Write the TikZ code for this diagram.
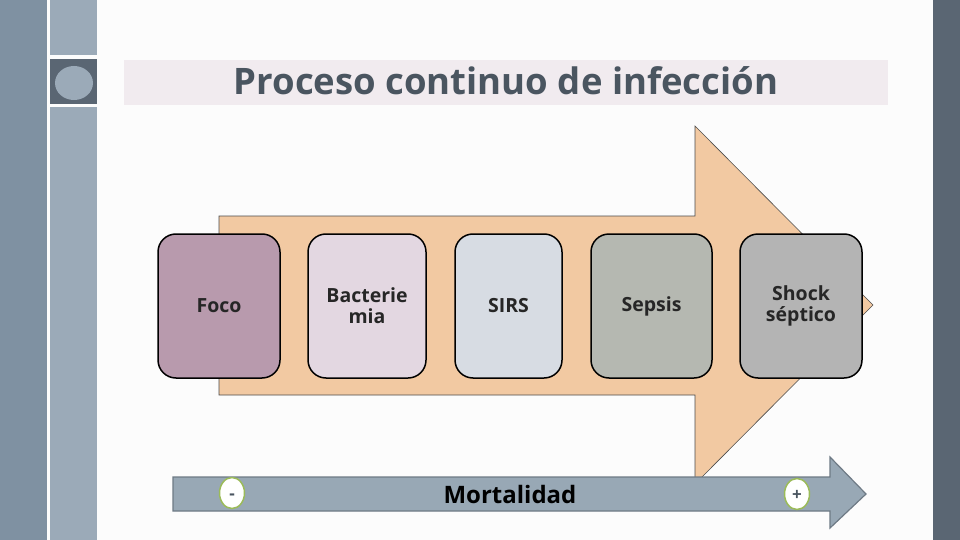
\documentclass[tikz,border=0pt]{standalone}
\usepackage{fontspec}
\setmainfont{Open Sans}
\usetikzlibrary{shapes.geometric}
\definecolor{stripA}{HTML}{7F91A2}
\definecolor{stripB}{HTML}{9BAAB8}
\definecolor{stripDark}{HTML}{5A6673}
\definecolor{titlebg}{HTML}{F1EBEF}
\definecolor{titlefg}{HTML}{4A5560}
\definecolor{peach}{HTML}{F2C9A2}
\definecolor{cFoco}{HTML}{B89AAD}
\definecolor{cBact}{HTML}{E3D7E1}
\definecolor{cSirs}{HTML}{D7DCE3}
\definecolor{cSepsis}{HTML}{B5B8B1}
\definecolor{cShock}{HTML}{B4B4B4}
\definecolor{mortfill}{HTML}{98A8B5}
\definecolor{mortline}{HTML}{6E7A85}
\definecolor{olive}{HTML}{9BBB59}
\tikzset{
  stage/.style={draw=black, line width=1.5pt, rounded corners=18pt, inner sep=0pt, align=center,
    font=\fontsize{19.5}{21}\selectfont\bfseries, text=black!85},
  sign/.style={ellipse, draw=olive, line width=1.5pt, fill=white, minimum width=25pt, minimum height=31pt, inner sep=0pt},
  signtext/.style={inner sep=0pt, font=\fontsize{17}{17}\selectfont\bfseries, text=titlefg}
}
\begin{document}
\begin{tikzpicture}[x=1pt,y=-1pt]
\useasboundingbox (0,0) rectangle (960,540);
\fill[white!99!black] (0,0) rectangle (960,540);
% side strips
\fill[stripA] (0,0) rectangle (47,540);
\fill[stripB] (50,0) rectangle (97,55);
\fill[stripDark] (50,59) rectangle (97,104);
\fill[stripB] (74,83) ellipse [x radius=19, y radius=17];
\fill[stripB] (50,107) rectangle (97,540);
\fill[stripDark] (933,0) rectangle (960,540);
% title
\fill[titlebg] (124,60) rectangle (888,105);
\node[font=\fontsize{36.5}{36.5}\selectfont\bfseries, text=titlefg] (title) at (506,81) {Proceso continuo de infección};
% big arrow
\draw[fill=peach, draw=black!70, line width=0.6pt]
  (219,216) -- (695,216) -- (695,126) -- (873,305) -- (695,484) -- (695,395) -- (219,395) -- cycle;
% stages
\node[stage, fill=cFoco, minimum width=122pt, minimum height=144pt] (foco) at (219,306) {Foco};
\node[stage, fill=cBact, minimum width=118pt, minimum height=144pt] (bact) at (367,306) {Bacterie\\mia};
\node[stage, fill=cSirs, minimum width=107pt, minimum height=144pt] (sirs) at (508.5,306) {SIRS};
\node[stage, fill=cSepsis, minimum width=121pt, minimum height=144pt] (sepsis) at (651.5,306) {Sepsis};
\node[stage, fill=cShock, minimum width=122pt, minimum height=144pt] (shock) at (801,306) {Shock\\séptico};
% mortality arrow
\draw[fill=mortfill, draw=mortline, line width=1.2pt]
  (173,477) -- (830,477) -- (830,457) -- (866,494) -- (830,528) -- (830,511) -- (173,511) -- cycle;
\node[font=\fontsize{24}{24}\selectfont\bfseries, text=black] (mort) at (510,494) {Mortalidad};
\node[sign] (minus) at (232,493) {};
\node[signtext, anchor=base] (minustext) at (232,499) {-};
\node[sign] (plus) at (797,494) {};
\node[signtext, anchor=base] (plustext) at (797,500) {+};
\end{tikzpicture}
\end{document}
